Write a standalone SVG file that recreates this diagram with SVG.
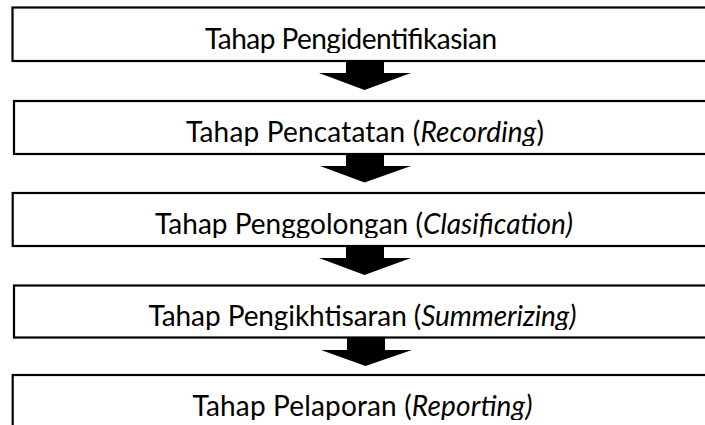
<svg xmlns="http://www.w3.org/2000/svg" width="705" height="425" viewBox="0 0 705 425">
<style>
.box{fill:#fff;stroke:#000;stroke-width:2.2}
.lbl{font-family:Lato,"Noto Sans",sans-serif;font-size:28px;fill:#000;text-anchor:middle}
.it{font-style:italic}
.arr{fill:#000;stroke:none}
</style>
<defs>
<clipPath id="c1"><rect x="0" y="7" width="705" height="46"/></clipPath>
<clipPath id="c2"><rect x="0" y="100" width="705" height="46"/></clipPath>
<clipPath id="c3"><rect x="0" y="192" width="705" height="46"/></clipPath>
<clipPath id="c4"><rect x="0" y="284" width="705" height="46"/></clipPath>
<clipPath id="c5"><rect x="0" y="374" width="705" height="46"/></clipPath>
</defs>
<g id="connectors">
<polygon class="arr" points="346,61 384,61 384,73 411,73 364.5,90 319,73 346,73"/>
<polygon class="arr" points="346,154 384,154 384,166 411,166 364.5,182.5 320,166 346,166"/>
<polygon class="arr" points="346,246 384,246 384,258 411,258 364.5,275 319,258 346,258"/>
<polygon class="arr" points="347,337.5 385,337.5 385,350 412,350 365.5,366 321,350 347,350"/>
</g>
<g id="n1">
<rect class="box" x="12.5" y="7.5" width="720" height="53.5"/>
<text class="lbl" x="351" y="49" textLength="292" clip-path="url(#c1)">Tahap Pengidentifikasian</text>
</g>
<g id="n2">
<rect class="box" x="14" y="101" width="720" height="53"/>
<text class="lbl" x="365" y="142" textLength="358" clip-path="url(#c2)">Tahap Pencatatan (<tspan class="it">Recording</tspan>)</text>
</g>
<g id="n3">
<rect class="box" x="12.7" y="193" width="720" height="53"/>
<text class="lbl" x="364" y="234" textLength="418" clip-path="url(#c3)">Tahap Penggolongan (<tspan class="it">Clasification)</tspan></text>
</g>
<g id="n4">
<rect class="box" x="14" y="285.5" width="720" height="52"/>
<text class="lbl" x="362.5" y="326" textLength="428" clip-path="url(#c4)">Tahap Pengikhtisaran (<tspan class="it">Summerizing)</tspan></text>
</g>
<g id="n5">
<rect class="box" x="12.7" y="375" width="720" height="60"/>
<text class="lbl" x="362.5" y="416" textLength="340" clip-path="url(#c5)">Tahap Pelaporan (<tspan class="it">Reporting)</tspan></text>
</g>
</svg>
